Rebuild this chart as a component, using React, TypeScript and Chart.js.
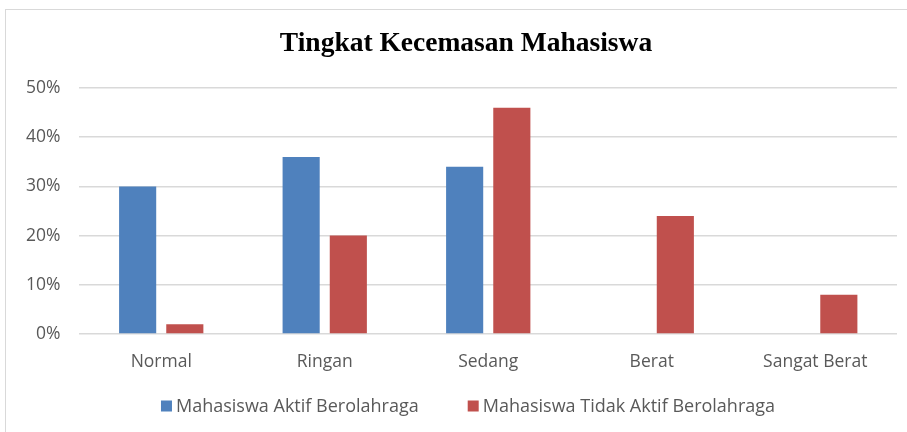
import React, { useEffect, useRef } from "react";
import { Chart, registerables } from "chart.js";

Chart.register(...registerables);

const categories = ["Normal", "Ringan", "Sedang", "Berat", "Sangat Berat"];
const aktifLabel = "Mahasiswa Aktif Berolahraga";
const tidakAktifLabel = "Mahasiswa Tidak Aktif Berolahraga";
const aktifValues = [30, 36, 34, 0, 0];
const tidakAktifValues = [2, 20, 46, 24, 8];
const titleText = "Tingkat Kecemasan Mahasiswa";

const FONT = "'Open Sans', sans-serif";

// Title slightly right of centre, as in the original
const shiftTitle = {
  id: "shiftTitle",
  afterLayout(chart: any) {
    const t = chart.titleBlock;
    if (t) {
      t.left += 14;
      t.right += 14;
    }
  },
};

// Compact legend (tight box/text gap, wide gap between entries), built from the datasets
const compactLegend = {
  id: "compactLegend",
  afterDraw(chart: any) {
    const ctx = chart.ctx as CanvasRenderingContext2D;
    ctx.save();
    ctx.font = `18px ${FONT}`;
    ctx.textBaseline = "middle";
    const box = 11;
    const gap = 4;
    const itemGap = 49;
    const items = chart.data.datasets.map((ds: any) => ({
      label: ds.label as string,
      color: ds.backgroundColor as string,
      w: box + gap + ctx.measureText(ds.label).width,
    }));
    const total = items.reduce((s: number, it: any) => s + it.w, 0) + itemGap * (items.length - 1);
    const centerX = 468;
    const y = chart.height - 26;
    let x = centerX - total / 2;
    for (const it of items) {
      ctx.fillStyle = it.color;
      ctx.fillRect(x, y - box / 2, box, box);
      ctx.fillStyle = "#595959";
      ctx.fillText(it.label, x + box + gap, y + 1);
      x += it.w + itemGap;
    }
    ctx.restore();
  },
};

export default function App() {
  const ref = useRef<HTMLCanvasElement>(null);
  useEffect(() => {
    document.body.style.margin = "0";
    const ctx = ref.current!;
    const chart = new Chart(ctx, {
      type: "bar",
      data: {
        labels: categories,
        datasets: [
          {
            label: aktifLabel,
            data: aktifValues,
            backgroundColor: "#4f81bd",
            categoryPercentage: 0.577,
            barPercentage: 0.787,
          },
          {
            label: tidakAktifLabel,
            data: tidakAktifValues,
            backgroundColor: "#c0504d",
            categoryPercentage: 0.577,
            barPercentage: 0.787,
          },
        ],
      },
      plugins: [shiftTitle, compactLegend],
      options: {
        animation: false,
        responsive: false,
        maintainAspectRatio: false,
        layout: { padding: { top: 20, left: 7, right: 10, bottom: 41 } },
        plugins: {
          title: {
            display: true,
            text: titleText,
            color: "#000",
            font: { family: "'Liberation Serif', 'Times New Roman', serif", size: 27.5, weight: "bold" },
            padding: { top: 7, bottom: 28 },
          },
          legend: { display: false },
          tooltip: { enabled: false },
        },
        scales: {
          x: {
            grid: { display: false, drawTicks: false },
            border: { display: false },
            ticks: { color: "#595959", font: { family: FONT, size: 17.5 }, padding: 18 },
          },
          y: {
            min: 0,
            max: 50,
            grid: { color: "#d9d9d9", lineWidth: 1.5, drawTicks: false },
            border: { display: false },
            ticks: {
              stepSize: 10,
              color: "#595959",
              font: { family: FONT, size: 17.5 },
              padding: 19,
              callback: (v: any) => v + "%",
            },
          },
        },
      },
    });
    return () => chart.destroy();
  }, []);
  return (
    <div style={{ position: "relative", width: 907, height: 432, background: "#fff" }}>
      <div
        style={{
          position: "absolute",
          left: 5,
          top: 9,
          right: 0,
          bottom: 0,
          borderLeft: "1.5px solid #d9d9d9",
          borderTop: "1.5px solid #d9d9d9",
        }}
      />
      <canvas ref={ref} width={907} height={432} style={{ position: "absolute", left: 0, top: 0 }} />
    </div>
  );
}
